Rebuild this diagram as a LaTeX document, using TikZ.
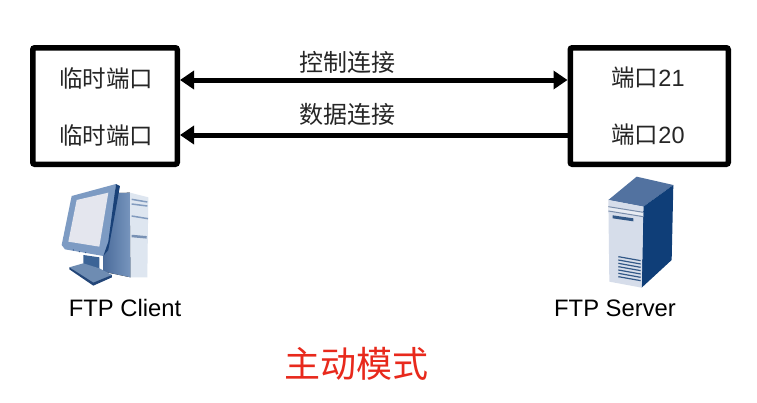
\documentclass[tikz,border=0pt]{standalone}
\usepackage{fontspec}
\setmainfont{Liberation Sans}
\newfontfamily\cjk{Noto Sans CJK SC}
\usetikzlibrary{arrows.meta,calc}
\definecolor{txt}{HTML}{262626}
\definecolor{modered}{HTML}{E8291C}
\definecolor{sidea}{RGB}{120,150,190}
\definecolor{sideb}{RGB}{75,108,155}
\tikzset{
  portbox/.style={draw=black,line width=5.5pt,rounded corners=2pt,fill=white,minimum height=116.5pt},
  porttext/.style={text=txt,inner sep=0pt,font=\fontsize{23.5}{26}\selectfont\cjk},
  linktext/.style={text=txt,inner sep=0pt,font=\fontsize{24}{26}\selectfont\cjk},
  hosttext/.style={text=black,inner sep=0pt,font=\fontsize{23.8}{26}\selectfont},
  modetext/.style={text=modered,inner sep=0pt,font=\fontsize{36}{40}\selectfont\cjk},
  link/.style={line width=5pt,draw=black,-{Triangle[length=14pt,width=18pt]}},
  linkboth/.style={line width=5pt,draw=black,{Triangle[length=14pt,width=18pt]}-{Triangle[length=14pt,width=18pt]}},
}
\begin{document}
\begin{tikzpicture}[x=1pt,y=-1pt]
\useasboundingbox[fill=white] (0,0) rectangle (757,402);
\node[portbox,minimum width=144.5pt] (client) at (105,106) {};
\node[portbox,minimum width=158pt] (server) at (649.25,106) {};
\node[porttext] (c1) at (106,79) {临时端口};
\node[porttext] (c2) at (106,136) {临时端口};
\node[porttext] (s1) at (648,78) {端口{\fontsize{23.5}{26}\selectfont\rmfamily 21}};
\node[porttext] (s2) at (648,135) {端口{\fontsize{23.5}{26}\selectfont\rmfamily 20}};
\coordinate (a1) at (client.east |- 0,80);
\coordinate (a2) at (client.east |- 0,135);
\draw[linkboth] (a1) -- (a1 -| server.west);
\draw[link] (a2 -| server.west) -- (a2);
\node[linktext] (l1) at (347,62) {控制连接};
\node[linktext] (l2) at (347,114) {数据连接};
% client computer
\begin{scope}[shift={(40,170)},x=0.3333pt,y=-0.3333pt]
  \fill[left color=sideb,right color=sidea] (190,70)--(270,68)--(272,322)--(190,305)--cycle;
  \fill[fill={rgb,255:red,222;green,230;blue,240}] (270,68)--(325,82)--(322,322)--(272,322)--cycle;
  \draw[line width=1.5pt,color={rgb,255:red,130;green,155;blue,190}] (275,88)--(322,96) (275,102)--(322,108) (275,138)--(324,146);
  \draw[line width=2.5pt,color={rgb,255:red,120;green,145;blue,180}] (275,198)--(320,202);
  \fill[fill={rgb,255:red,60;green,100;blue,150}] (130,255)--(178,262)--(178,305)--(130,292)--cycle;
  \fill[fill={rgb,255:red,110;green,140;blue,178}] (88,292)--(130,280)--(178,295)--(216,315)--(160,345)--cycle;
  \fill[fill={rgb,255:red,35;green,70;blue,120}] (88,292)--(160,338)--(216,315)--(216,322)--(160,347)--(88,298)--cycle;
  \fill[fill={rgb,255:red,125;green,155;blue,195}] (65,225)--(95,78)--(228,42)--(205,238)--(190,258)--(75,238)--cycle;
  \fill[fill={rgb,255:red,25;green,65;blue,120}] (228,42)--(240,48)--(205,240)--(190,258)--(205,215)--cycle;
  \fill[fill={rgb,255:red,228;green,230;blue,238}] (85,215)--(110,90)--(205,68)--(178,230)--cycle;
  \fill[fill={rgb,255:red,50;green,85;blue,135}] (100,240) circle (2) (118,245) circle (2) (137,248) circle (2);
\end{scope}
% server
\begin{scope}[shift={(580,165)},x=0.3333pt,y=-0.3333pt]
  \fill[fill={rgb,255:red,82;green,114;blue,160}] (85,105)--(170,35)--(280,60)--(190,125)--cycle;
  \fill[fill={rgb,255:red,15;green,62;blue,120}] (190,125)--(280,60)--(275,285)--(185,368)--cycle;
  \fill[fill={rgb,255:red,214;green,221;blue,234}] (85,105)--(190,125)--(185,368)--(88,350)--cycle;
  \fill[fill={rgb,255:red,232;green,236;blue,243}] (85,125)--(190,142)--(190,155)--(85,138)--cycle;
  \draw[line width=1pt,color={rgb,255:red,120;green,140;blue,170}] (85,125)--(190,142) (85,138)--(190,155);
  \fill[fill={rgb,255:red,50;green,88;blue,135}] (98,151)--(160,160)--(160,169)--(98,160)--cycle;
  \foreach \yy in {275,285,295,305,315,325,335}
    \draw[line width=1.2pt,color={rgb,255:red,50;green,88;blue,135}] (115,\yy)--(182,\yy+12);
\end{scope}
\node[hosttext] (h1) at (125,308) {FTP Client};
\node[hosttext] (h2) at (615,308) {FTP Server};
\node[modetext] (m) at (356,364) {主动模式};
\end{tikzpicture}
\end{document}
